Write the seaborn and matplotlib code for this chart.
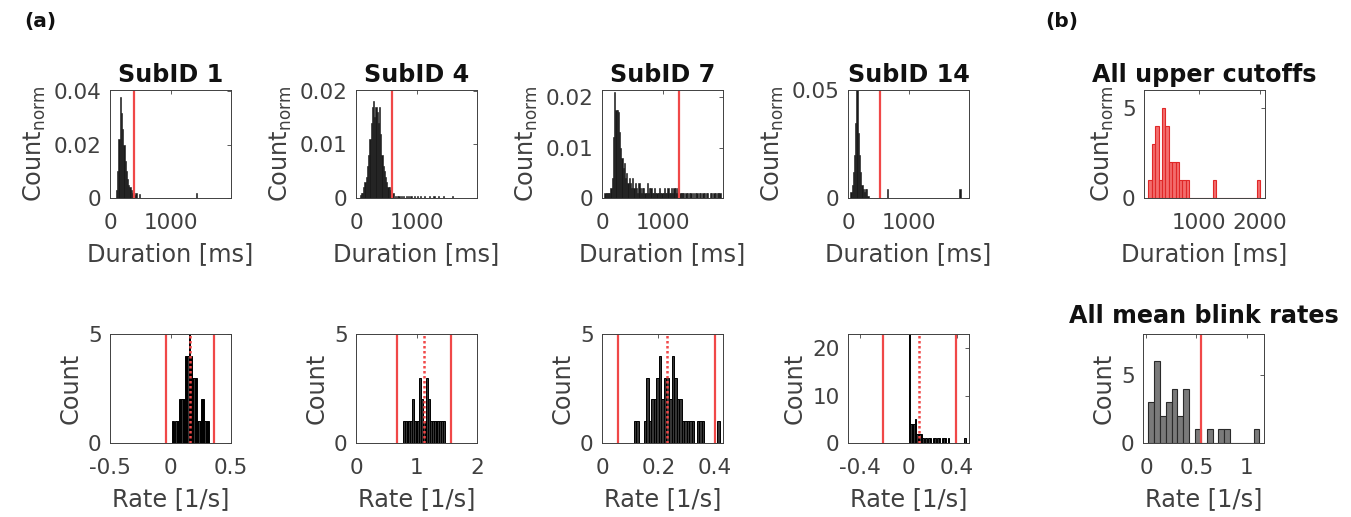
import numpy as np
import pandas as pd
import matplotlib
matplotlib.use("Agg")
import matplotlib.pyplot as plt
import seaborn as sns

# ---- blink durations per subject (20 ms bins, normalised counts) ----
durBinMs = 20

sub1DurStart = 100
sub1DurNorm = [0.003, 0.010, 0.022, 0.038, 0.032, 0.026, 0.020, 0.014,
               0.010, 0.007, 0.005, 0.004, 0.003, 0.002, 0.001, 0.001]
sub1TailMs = [420, 480, 1420]
sub1TailNorm = [0.002, 0.0015, 0.002]
sub1Cutoff = 395

sub4DurStart = 60
sub4DurNorm = [0.0005, 0.001, 0.001, 0.002, 0.003, 0.004, 0.006, 0.008,
               0.011, 0.014, 0.017, 0.018, 0.015, 0.017, 0.016, 0.014,
               0.017, 0.012, 0.008, 0.006, 0.005, 0.004, 0.003, 0.002,
               0.002, 0.0015, 0.001, 0.001]
sub4TailMs = [640, 680, 700, 740, 780, 820, 860, 900, 960, 1000, 1060,
              1120, 1200, 1280, 1360, 1440, 1580]
sub4TailNorm = [0.0004] * 17
sub4Cutoff = 600

sub7DurStart = 40
sub7DurNorm = [0.001, 0.001, 0.001, 0.001, 0.001,
               0.002, 0.004, 0.012, 0.021, 0.0175, 0.0175, 0.017, 0.013, 0.010, 0.008,
               0.006, 0.007, 0.004, 0.005, 0.003,
               0.004, 0.003, 0.002, 0.004, 0.002, 0.003, 0.002, 0.001, 0.003, 0.002,
               0.001, 0.002, 0.002, 0.001, 0.001, 0.003, 0.001, 0.002, 0.002, 0.001,
               0.001, 0.002, 0.001, 0.001, 0.001, 0.002, 0.001, 0.001, 0.001, 0.002,
               0.001, 0.001, 0.002, 0.001, 0.001, 0.002, 0.001, 0.002, 0.002, 0.001,
               0.002, 0.001, 0.001, 0.001, 0.001, 0.001, 0.0, 0.001, 0.001, 0.0,
               0.001, 0.001, 0.0, 0.001, 0.0, 0.001, 0.001, 0.0, 0.001, 0.001,
               0.0, 0.001, 0.001, 0.0, 0.001, 0.001, 0.0, 0.001, 0.001, 0.0,
               0.001, 0.001, 0.0, 0.001, 0.001, 0.001]
sub7TailMs = []
sub7TailNorm = []
sub7Cutoff = 1270

sub14DurStart = 40
sub14DurNorm = [0.003, 0.006, 0.012, 0.020, 0.035, 0.050, 0.030, 0.020,
                0.012, 0.006, 0.004, 0.003, 0.004, 0.004, 0.001]
sub14TailMs = [640, 1840]
sub14TailNorm = [0.004, 0.004]
sub14Cutoff = 522

# ---- all upper cutoffs (counts) ----
cutBinStart = 172
cutBinMs = 55.5
cutCounts = [1, 3, 4, 1, 5, 4, 2, 2, 2, 1, 1, 1, 0, 0, 0, 0, 0, 0, 0, 1,
             0, 0, 0, 0, 0, 0, 0, 0, 0, 0, 0, 0, 1]

# ---- blink rates per subject (counts) ----
sub1RateStart, sub1RateBin = 0.01, 0.01
sub1RateCounts = [1, 1, 0, 1, 1, 1, 2, 2, 2, 2, 2, 4, 4, 4, 5, 4, 4, 3, 3, 3,
                  3, 1, 1, 1, 2, 2, 2, 1, 1, 1, 1]
sub1RateLims = [-0.035, 0.363]
sub1RateMean = 0.164

sub4RateStart, sub4RateBin = 0.775, 0.03
sub4RateCounts = [1, 1, 1, 1, 1, 2, 1, 1, 1, 3, 2, 1, 1, 3, 2, 1, 1, 1, 1, 1,
                  1, 1, 1]
sub4RateLims = [0.678, 1.574]
sub4RateMean = 1.128

sub7RateStart, sub7RateBin = 0.112, 0.009
sub7RateCounts = [1, 1, 0, 0, 1, 3, 1, 2, 2, 3, 4, 2, 3, 3, 2, 4, 3, 2, 2, 1,
                  1, 1, 1, 1, 0, 1, 1, 1, 0, 0, 0, 0, 0, 1]
sub7RateLims = [0.057, 0.403]
sub7RateMean = 0.230

sub14RateStart, sub14RateBin = 0.0, 0.0125
sub14RateCounts = [40, 4, 4, 4, 5, 2, 2, 2, 2, 1, 0, 1, 0, 1, 1, 0, 1, 1, 0, 1,
                   1, 0, 1, 1, 1, 0, 1, 0, 0, 0, 0, 0, 0, 0, 0, 0, 0, 1]
sub14RateLims = [-0.214, 0.389]
sub14RateMean = 0.087

# ---- all mean blink rates (counts) ----
meanRateStart, meanRateBin = 0.022, 0.058
meanRateCounts = [3, 6, 2, 3, 4, 2, 4, 0, 1, 0, 1, 0, 1, 1, 0, 0, 0, 0, 1]
meanRateCutoff = 0.55

red = "#F04848"
ink = "#404040"
tickSize = 15.5
labelSize = 17.3
titleSize = 17.2

sns.set_theme(style="white")
plt.rcParams["font.family"] = ["DejaVu Sans"]
plt.rcParams["mathtext.default"] = "regular"
plt.rcParams["axes.unicode_minus"] = False

fig = plt.figure(figsize=(13.51, 5.17), dpi=100)


def rect(xPx, yPx, wPx=121, hPx=108):
    return [xPx / 1351, 1 - (yPx + hPx) / 517, wPx / 1351, hPx / 517]


def styleAx(ax, xticks, xlabels, yticks, ylabels, xlab, ylab):
    ax.set_xticks(xticks)
    ax.set_xticklabels(xlabels)
    ax.set_yticks(yticks)
    ax.set_yticklabels(ylabels)
    ax.tick_params(direction="in", length=3, width=0.6, colors=ink,
                   labelsize=tickSize, top=True, right=True, pad=11)
    ax.tick_params(axis="y", pad=6)
    for s in ax.spines.values():
        s.set_color(ink)
        s.set_linewidth(0.7)
    ax.set_xlabel(xlab, fontsize=labelSize, color=ink, labelpad=6)
    ax.set_ylabel(ylab, fontsize=labelSize, color=ink, labelpad=4)


def binned(ax, start, width, values, **kw):
    df = pd.DataFrame({
        "x": start + width * (np.arange(len(values)) + 0.5),
        "w": np.asarray(values, dtype=float),
    })
    edges = [start + width * i for i in range(len(values) + 1)]
    sns.histplot(data=df, x="x", weights="w", bins=edges, ax=ax, **kw)


def durPanel(xPx, start, norm, tailMs, tailNorm, cutoff, ymax, yticks, ylabels, title):
    ax = fig.add_axes(rect(xPx, 90))
    nBins = len(norm)
    if tailMs:
        nBins = (max(tailMs) - start) // durBinMs + 1
    vals = np.zeros(nBins)
    vals[:len(norm)] = norm
    for m, v in zip(tailMs, tailNorm):
        vals[(m - start) // durBinMs] = v
    binned(ax, start, durBinMs, vals, color="#1a1a1a", edgecolor="#1a1a1a",
           linewidth=0.4, alpha=1)
    ax.axvline(cutoff, color=red, lw=1.6)
    ax.set_xlim(0, 2000)
    ax.set_ylim(0, ymax)
    styleAx(ax, [0, 1000], ["0", "1000"], yticks, ylabels,
            "Duration [ms]", r"Count$_{norm}$")
    ax.set_title(title, fontsize=titleSize, fontweight="bold", color="#111111", pad=6)


def ratePanel(xPx, start, width, counts, lims, mean, xlim, xticks, xlabels, ymax, yticks):
    ax = fig.add_axes(rect(xPx, 334, hPx=109))
    binned(ax, start, width, counts, color="#2a2a2a", edgecolor="black",
           linewidth=0.7, alpha=0.95)
    for v in lims:
        ax.axvline(v, color=red, lw=1.6)
    ax.axvline(mean, color=red, lw=1.8, ls=(0, (1, 1)))
    ax.set_xlim(*xlim)
    ax.set_ylim(0, ymax)
    styleAx(ax, xticks, xlabels, yticks, [str(t) for t in yticks],
            "Rate [1/s]", "Count")
    return ax


durPanel(110, sub1DurStart, sub1DurNorm, sub1TailMs, sub1TailNorm, sub1Cutoff,
         0.0405, [0, 0.02, 0.04], ["0", "0.02", "0.04"], "SubID 1")
durPanel(356, sub4DurStart, sub4DurNorm, sub4TailMs, sub4TailNorm, sub4Cutoff,
         0.0201, [0, 0.01, 0.02], ["0", "0.01", "0.02"], "SubID 4")
durPanel(602, sub7DurStart, sub7DurNorm, sub7TailMs, sub7TailNorm, sub7Cutoff,
         0.0214, [0, 0.01, 0.02], ["0", "0.01", "0.02"], "SubID 7")
durPanel(848, sub14DurStart, sub14DurNorm, sub14TailMs, sub14TailNorm, sub14Cutoff,
         0.0502, [0, 0.05], ["0", "0.05"], "SubID 14")

# all upper cutoffs
axCut = fig.add_axes(rect(1144, 90))
binned(axCut, cutBinStart, cutBinMs, cutCounts, color=red, edgecolor="#E02828",
       linewidth=0.8, alpha=0.8)
axCut.set_xlim(100, 2080)
axCut.set_ylim(0, 6)
styleAx(axCut, [1000, 2000], ["1000", "2000"], [0, 5], ["0", "5"],
        "Duration [ms]", r"Count$_{norm}$")
axCut.set_title("All upper cutoffs", fontsize=titleSize, fontweight="bold",
                color="#111111", pad=6)

ratePanel(110, sub1RateStart, sub1RateBin, sub1RateCounts, sub1RateLims, sub1RateMean,
          (-0.5, 0.5), [-0.5, 0, 0.5], ["-0.5", "0", "0.5"], 5, [0, 5])
ratePanel(356, sub4RateStart, sub4RateBin, sub4RateCounts, sub4RateLims, sub4RateMean,
          (0, 2), [0, 1, 2], ["0", "1", "2"], 5, [0, 5])
ratePanel(602, sub7RateStart, sub7RateBin, sub7RateCounts, sub7RateLims, sub7RateMean,
          (0, 0.43), [0, 0.2, 0.4], ["0", "0.2", "0.4"], 5, [0, 5])
ratePanel(848, sub14RateStart, sub14RateBin, sub14RateCounts, sub14RateLims, sub14RateMean,
          (-0.5, 0.5), [-0.4, 0, 0.4], ["-0.4", "0", "0.4"], 23, [0, 10, 20])

# all mean blink rates
axMean = fig.add_axes(rect(1143, 334, hPx=109))
binned(axMean, meanRateStart, meanRateBin, meanRateCounts, color="#7a7a7a",
       edgecolor="#2a2a2a", linewidth=0.8, alpha=1)
axMean.axvline(meanRateCutoff, color=red, lw=1.6)
axMean.set_xlim(-0.03, 1.17)
axMean.set_ylim(0, 8)
styleAx(axMean, [0, 0.5, 1], ["0", "0.5", "1"], [0, 5], ["0", "5"],
        "Rate [1/s]", "Count")
axMean.set_title("All mean blink rates", fontsize=titleSize, fontweight="bold",
                 color="#111111", pad=8)

fig.text(40 / 1351, 1 - 22 / 517, "(a)", fontsize=14.5, fontweight="bold",
         ha="center", va="center", color="#111111")
fig.text(1062 / 1351, 1 - 22 / 517, "(b)", fontsize=14.5, fontweight="bold",
         ha="center", va="center", color="#111111")

fig.savefig("out.png", dpi=100)
